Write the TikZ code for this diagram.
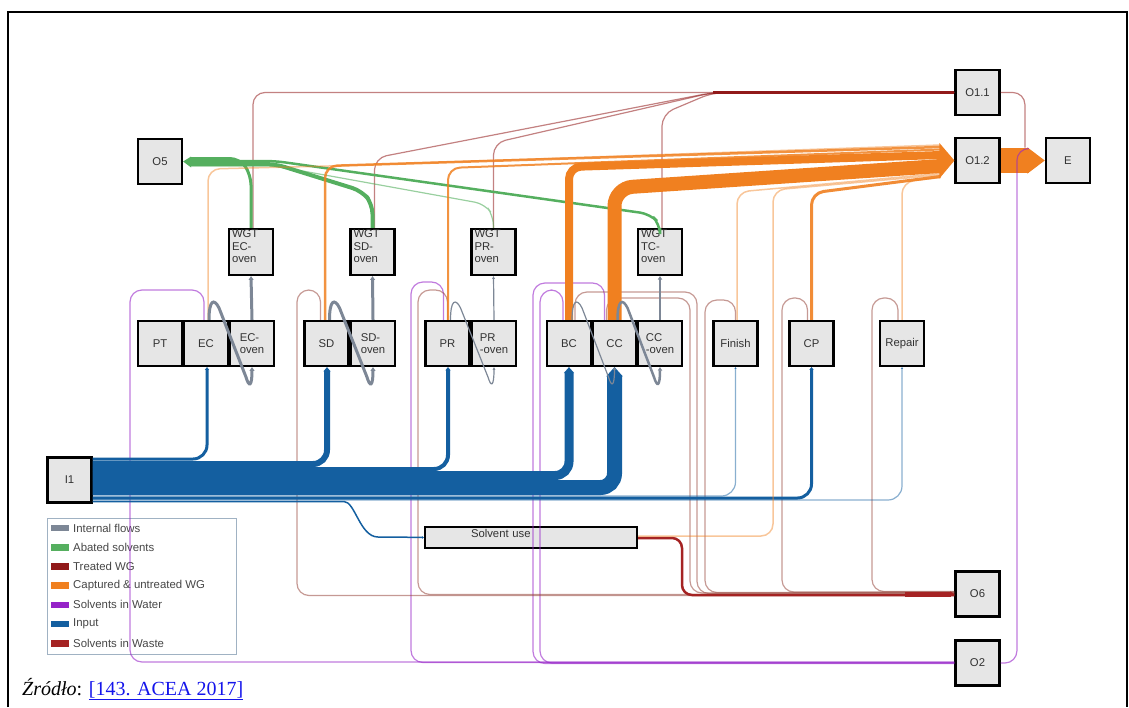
\documentclass[tikz,border=0pt]{standalone}
\usepackage{fontspec}
\setmainfont{Liberation Serif}
\setsansfont{Liberation Sans}
\usepackage{tikz}
\usetikzlibrary{arrows.meta,calc}

\definecolor{boxfill}{RGB}{230,230,230}
\definecolor{lbltext}{RGB}{50,50,50}
\definecolor{legline}{RGB}{160,178,195}
\definecolor{linkblue}{RGB}{20,20,235}
\definecolor{intcol}{RGB}{125,135,150}
\definecolor{abcol}{RGB}{85,175,95}
\definecolor{treatcol}{RGB}{145,25,25}
\definecolor{capcol}{RGB}{240,128,32}
\definecolor{watcol}{RGB}{150,35,200}
\definecolor{incol}{RGB}{20,95,160}
\definecolor{wastecol}{RGB}{165,35,35}
\definecolor{wastethin}{RGB}{150,70,60}

\tikzset{
  blk/.style={draw=black, line width=2.2pt, fill=boxfill, minimum width=44pt,
    minimum height=45pt, inner sep=1pt, text=lbltext, align=left,
    font=\sffamily\fontsize{11.3}{12.5}\selectfont},
  legtext/.style={anchor=west, inner sep=0pt, text=lbltext!90!white,
    font=\sffamily\fontsize{11.4}{13}\selectfont},
  inflow/.style={incol, rounded corners=14pt, -{Triangle[length=1pt 0.55,width=1pt 1]}},
  capflow/.style={capcol, rounded corners=12pt},
  abflow/.style={abcol, rounded corners=10pt},
  treatflow/.style={treatcol, draw opacity=0.55, line width=1.2pt, rounded corners=12pt},
  watflow/.style={watcol, draw opacity=0.6, line width=1.2pt, rounded corners=12pt},
  wasteflow/.style={wastethin, draw opacity=0.55, line width=1.2pt, rounded corners=12pt},
  intflow/.style={intcol, -{Triangle[length=2pt 0.6,width=1pt 1.3]}}
}

\begin{document}
\begin{tikzpicture}[x=1pt,y=-1pt]
  \useasboundingbox (0,0) rectangle (1129,707);
  \draw[line width=1.6pt] (8,707) -- (8,12) -- (1127,12) -- (1127,707);

  % legend
  \draw[legline, line width=1pt] (47,518) rectangle (236,654);
  \foreach \c/\t [count=\i from 0] in {intcol/Internal flows, abcol/Abated solvents,
      treatcol/Treated WG, capcol/Captured \& untreated WG, watcol/Solvents in Water,
      incol/Input, wastecol/Solvents in Waste}{
    \fill[\c] (51,{524.7+19.2*\i}) rectangle (69,{531.3+19.2*\i});
    \node[legtext] (leg\i) at (73,{528+19.2*\i}) {\t};
  }

  % units
  \node[blk] (o5) at (160,161.5) {O5};
  \node[blk] (o11) at (977.5,92.5) {O1.1};
  \node[blk] (o12) at (977.5,160.5) {O1.2};
  \node[blk] (e) at (1068,160.5) {E};
  \node[blk] (wgec) at (251,252) {\parbox[c][44pt][t]{38pt}{WGT\\EC-\\oven}};
  \node[blk] (wgsd) at (372.5,252) {\parbox[c][44pt][t]{38pt}{WGT\\SD-\\oven}};
  \node[blk] (wgpr) at (493.5,252) {\parbox[c][44pt][t]{38pt}{WGT\\PR-\\oven}};
  \node[blk] (wgtc) at (660,252) {\parbox[c][44pt][t]{38pt}{WGT\\TC-\\oven}};
  \node[blk] (pt) at (160,343.5) {PT};
  \node[blk] (ec) at (206,343.5) {EC};
  \node[blk] (ecov) at (252,343.5) {EC-\\oven};
  \node[blk] (sd) at (326.5,343.5) {SD};
  \node[blk] (sdov) at (373,343.5) {SD-\\oven};
  \node[blk] (pr) at (447.5,343.5) {PR};
  \node[blk] (prov) at (494,343.5) {PR\\-oven};
  \node[blk] (bc) at (569,343.5) {BC};
  \node[blk] (cc) at (614.5,343.5) {CC};
  \node[blk] (ccov) at (660,343.5) {CC\\-oven};
  \node[blk] (fin) at (735.5,343.5) {Finish};
  \node[blk] (cp) at (811.5,343.5) {CP};
  \node[blk] (rep) at (902,343.5) {Repair};
  \node[blk] (i1) at (69.5,480) {I1};
  \node[blk, minimum width=212pt, minimum height=21pt, text width=204pt] (suse)
    at (531,537.5) {\hspace*{42pt}\raisebox{0.5pt}[0pt][0pt]{Solvent use}};
  \node[blk] (o6) at (977.5,594) {O6};
  \node[blk] (o2) at (977.5,663) {O2};

  % solvents in water -> O2
  \draw[watflow] ([xshift=-2pt]ec.north) |- (130,290) |- ([yshift=1pt]o2.west);
  \draw[watflow] ([xshift=-4pt]pr.north) |- (411,282) |- ([yshift=0.5pt]o2.west);
  \draw[watflow] ([xshift=-6pt]bc.north) |- (540,290) |- (o2.west);
  \draw[watflow] ([xshift=-10pt]cc.north) |- (533,283) |- ([yshift=-0.5pt]o2.west);

  % solvents in waste -> O6
  \draw[wasteflow] ([xshift=-6pt]sd.north) |- (297,290) |- ([yshift=-1.5pt]o6.west);
  \draw[wasteflow] (pr.north) |- (418,290) |- ([yshift=-0.5pt]o6.west);
  \draw[wasteflow] ([xshift=6pt]bc.north) |- (697,292) |- ([yshift=0.5pt]o6.west);
  \draw[wasteflow] ([xshift=-8pt]cc.north) |- (690,298) |- ([yshift=1pt]o6.west);
  \draw[wasteflow] (fin.north) |- (705,300) |- ([yshift=1.5pt]o6.west);
  \draw[wasteflow] ([xshift=-4pt]cp.north) |- (782,298) |- ([yshift=2pt]o6.west);
  \draw[wasteflow] ([xshift=-4pt]rep.north) |- (872,298) |- ([yshift=2.5pt]o6.west);
  \draw[wastecol, line width=2.5pt, rounded corners=10pt] ([yshift=-0.5pt]suse.east)
    -- (682,538) -- (682,595) -- ([yshift=-1pt]o6.west);
  \coordinate (wjoin) at (905,594);
  \draw[wastecol, line width=5pt, -{Triangle[length=0pt 0.8,width=0pt 1]}] (wjoin) -- (o6.west);

  % input from I1
  \foreach \b/\dy/\dx/\w/\o in {ec/21/1/3/1, sd/16/0.5/6/1, pr/11/0.5/4/1, bc/4.5/0/9/1,
      cc/-7.5/0/15/1, fin/-16/0/1.2/0.5, cp/-18/0/3/1, rep/-20/0/1.2/0.5}
    \draw[inflow, line width=\w pt, draw opacity=\o] ([yshift=\dy pt]i1.east) -| ([xshift=\dx pt]\b.south);
  \draw[inflow, line width=1.5pt] ([yshift=-21.5pt]i1.east) -- (330,501.5)
    .. controls (355,501.5) and (360,537) .. (392,537) -- (suse.west);

  % treated WG -> O1.1
  \coordinate (tgjoin) at (713,92.5);
  \draw[treatflow] ([xshift=2pt]wgec.north) |- (tgjoin) -- (o11.west);
  \draw[treatflow] ([xshift=2pt]wgsd.north) -- (374.5,158) -- (tgjoin) -- (o11.west);
  \draw[treatflow] (wgpr.north) -- (493.5,143) -- (tgjoin) -- (o11.west);
  \draw[treatflow] ([xshift=2pt]wgtc.north) -- (662,114) -- (tgjoin) -- (o11.west);
  \draw[treatcol, line width=3pt] (tgjoin) -- (o11.west);
  \draw[treatflow] (o11.east) -| ([xshift=-20pt,yshift=13pt]e.west);

  % abated solvents -> O5
  \draw[abflow, line width=3pt] (wgec.north) -- (251,175) -- (240,158.5) -- ([xshift=7pt,yshift=3pt]o5.east);
  \draw[abflow, line width=2.5pt] (wgtc.north) -- (660,224) -- (650,214) -- (275,161) -- ([xshift=7pt,yshift=0.5pt]o5.east);
  \draw[abflow, line width=4pt] (wgsd.north) -- (372.5,204) -- (362,191) -- (275,164) -- ([xshift=7pt,yshift=-2.5pt]o5.east);
  \draw[abflow, line width=1.2pt, draw opacity=0.6] (wgpr.north) -- (493.5,216) -- (485,204) -- (275,166) -- ([xshift=7pt,yshift=-4.5pt]o5.east);
  \fill[abcol] ([xshift=8pt,yshift=5pt]o5.east) -- (o5.east) -- ([xshift=8pt,yshift=-6pt]o5.east) -- cycle;

  % captured & untreated WG -> O1.2
  \draw[capflow, line width=1.5pt, draw opacity=0.45] ([xshift=2pt]ec.north) -- (208,169) -- (330,166) -- ([xshift=-14pt,yshift=15.5pt]o12.west);
  \draw[capflow, line width=2.5pt, draw opacity=0.85] ([xshift=-1.5pt]sd.north) -- (325,166) -- ([xshift=-14pt,yshift=13.5pt]o12.west);
  \draw[capflow, line width=2pt, draw opacity=0.85] ([xshift=0.5pt]pr.north) -- (448,168) -- ([xshift=-14pt,yshift=11pt]o12.west);
  \draw[capflow, line width=8pt] (bc.north) -- (569,167) -- ([xshift=-14pt,yshift=5.5pt]o12.west);
  \draw[capflow, line width=14pt, rounded corners=18pt] (cc.north) -- (614.5,188) -- ([xshift=-14pt,yshift=-5.5pt]o12.west);
  \draw[capflow, line width=1.5pt, draw opacity=0.45] ([xshift=1.5pt]fin.north) -- (737,192) -- ([xshift=-14pt,yshift=-13pt]o12.west);
  \draw[capflow, line width=1.5pt, draw opacity=0.45] ([yshift=1.5pt]suse.east) -- (773,536) -- (773,190) -- ([xshift=-14pt,yshift=-14.5pt]o12.west);
  \draw[capflow, line width=3pt, draw opacity=0.9] (cp.north) -- (811.5,193) -- ([xshift=-14pt,yshift=-16pt]o12.west);
  \draw[capflow, line width=1.5pt, draw opacity=0.45] (rep.north) -- (902,182) -- ([xshift=-14pt,yshift=-17pt]o12.west);
  \fill[capcol] ([xshift=-15pt,yshift=17.5pt]o12.west) -- (o12.west) -- ([xshift=-15pt,yshift=-18pt]o12.west) -- cycle;
  \draw[capcol, line width=25pt, -{Triangle[length=0pt 0.7,width=0pt 1]}] (o12.east) -- (e.west);
  \draw[watflow] (o2.east) -| ([xshift=-28pt,yshift=12pt]e.west) -- ([xshift=-16pt,yshift=12pt]e.west);

  % internal flows between process steps
  \foreach \a/\b/\w in {ec/ecov/3, sd/sdov/3, pr/prov/1.2, bc/cc/1.2, cc/ccov/2.5}
    \draw[intflow, line width=\w pt] ([xshift=3pt]\a.north) .. controls +(0,-20) and +(-5,-10) ..
      ($(\a.north)+(13,-12)$) -- ($(\b.south)+(-6,10)$) .. controls +(3,10) and +(0,20) .. (\b.south);
  \foreach \a/\b/\w in {ecov/wgec/3, sdov/wgsd/3, prov/wgpr/1.2, ccov/wgtc/2.5}
    \draw[intflow, line width=\w pt] (\a.north) -- (\b.south);

  \node[anchor=base west, inner sep=0pt, font=\fontsize{20}{24}\selectfont] (src) at (22,695)
    {\textit{Źródło}: \textcolor{linkblue}{\underline{[143. ACEA 2017]}}};
\end{tikzpicture}
\end{document}
